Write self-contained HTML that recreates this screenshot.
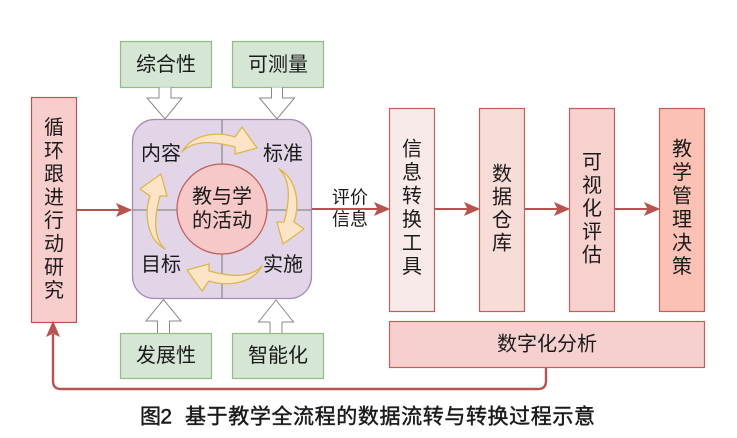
<!DOCTYPE html>
<html>
<head>
<meta charset="utf-8">
<style>
html,body{margin:0;padding:0;background:#fff;}
svg{display:block;}
text{font-family:"Liberation Sans","Noto Sans CJK SC","WenQuanYi Zen Hei",sans-serif;fill:#1a1a1a;}
</style>
</head>
<body>
<svg width="737" height="438" viewBox="0 0 737 438" xmlns="http://www.w3.org/2000/svg">
  <rect x="0" y="0" width="737" height="438" fill="#fff"/>

  <!-- top green boxes -->
  <rect x="120.5" y="41.5" width="91" height="46" fill="#d5e6d4" stroke="#8fbf7f" stroke-width="1.2"/>
  <rect x="232.5" y="41.5" width="91" height="46" fill="#d5e6d4" stroke="#8fbf7f" stroke-width="1.2"/>
  <text x="166" y="65" font-size="20" text-anchor="middle" dominant-baseline="central">综合性</text>
  <text x="278" y="65" font-size="20" text-anchor="middle" dominant-baseline="central">可测量</text>

  <!-- hollow down arrows -->
  <path d="M159,87.5 L159,98 L147,98 L165,119 L182,98 L171,98 L171,87.5" fill="#fff" stroke="#888" stroke-width="1"/>
  <path d="M271.5,87.5 L271.5,98 L259.5,98 L277,119 L294.5,98 L282.5,98 L282.5,87.5" fill="#fff" stroke="#888" stroke-width="1"/>

  <!-- bottom green boxes -->
  <rect x="120.5" y="333.5" width="91" height="45" fill="#d5e6d4" stroke="#8fbf7f" stroke-width="1.2"/>
  <rect x="232.5" y="333.5" width="91" height="45" fill="#d5e6d4" stroke="#8fbf7f" stroke-width="1.2"/>
  <text x="166" y="356" font-size="20" text-anchor="middle" dominant-baseline="central">发展性</text>
  <text x="278" y="356" font-size="20" text-anchor="middle" dominant-baseline="central">智能化</text>

  <!-- hollow up arrows -->
  <path d="M157.5,333 L157.5,321 L146,321 L163.5,299.5 L181,321 L169.5,321 L169.5,333" fill="#fff" stroke="#888" stroke-width="1"/>
  <path d="M270,333 L270,322 L258.5,322 L276,300 L293.5,322 L282,322 L282,333" fill="#fff" stroke="#888" stroke-width="1"/>

  <!-- purple box -->
  <rect x="132.5" y="119.5" width="179" height="179" rx="22" ry="22" fill="#e1d5e7" stroke="#a48bb3" stroke-width="1.3"/>
  <line x1="222" y1="120" x2="222" y2="298" stroke="#777" stroke-width="1"/>
  <line x1="133" y1="210" x2="311" y2="210" stroke="#777" stroke-width="1"/>

  <!-- yellow curved arrows -->
  <g transform="translate(222,209)">
    <path d="M-40,-57 C-30,-75 -5,-78 13,-72 L20,-82 L35,-61 L13,-55 L13,-62 C-5,-67 -28,-70 -40,-57 Z" fill="#fde4c6" stroke="#dcb64e" stroke-width="1.3" stroke-linejoin="round"/>
    <path transform="rotate(90)" d="M-40,-57 C-30,-75 -5,-78 13,-72 L20,-82 L35,-61 L13,-55 L13,-62 C-5,-67 -28,-70 -40,-57 Z" fill="#fde4c6" stroke="#dcb64e" stroke-width="1.3" stroke-linejoin="round"/>
    <path transform="rotate(180)" d="M-40,-57 C-30,-75 -5,-78 13,-72 L20,-82 L35,-61 L13,-55 L13,-62 C-5,-67 -28,-70 -40,-57 Z" fill="#fde4c6" stroke="#dcb64e" stroke-width="1.3" stroke-linejoin="round"/>
    <path transform="rotate(270)" d="M-40,-57 C-30,-75 -5,-78 13,-72 L20,-82 L35,-61 L13,-55 L13,-62 C-5,-67 -28,-70 -40,-57 Z" fill="#fde4c6" stroke="#dcb64e" stroke-width="1.3" stroke-linejoin="round"/>
  </g>

  <!-- circle -->
  <circle cx="222" cy="209" r="45" fill="#f6c9c8" stroke="#c0605b" stroke-width="1.3"/>
  <text x="222" y="197" font-size="20" text-anchor="middle" dominant-baseline="central">教与学</text>
  <text x="222" y="221" font-size="20" text-anchor="middle" dominant-baseline="central">的活动</text>

  <!-- quadrant labels -->
  <text x="161" y="154" font-size="20" text-anchor="middle" dominant-baseline="central">内容</text>
  <text x="283" y="154" font-size="20" text-anchor="middle" dominant-baseline="central">标准</text>
  <text x="161" y="265" font-size="20" text-anchor="middle" dominant-baseline="central">目标</text>
  <text x="283" y="265" font-size="20" text-anchor="middle" dominant-baseline="central">实施</text>

  <!-- left box -->
  <rect x="31.5" y="97.5" width="45" height="225" fill="#f8cecc" stroke="#b85450" stroke-width="1.2"/>
  <g font-size="20" text-anchor="middle">
    <text x="54" y="128" dominant-baseline="central">循</text>
    <text x="54" y="151.3" dominant-baseline="central">环</text>
    <text x="54" y="174.6" dominant-baseline="central">跟</text>
    <text x="54" y="197.9" dominant-baseline="central">进</text>
    <text x="54" y="221.2" dominant-baseline="central">行</text>
    <text x="54" y="244.5" dominant-baseline="central">动</text>
    <text x="54" y="267.8" dominant-baseline="central">研</text>
    <text x="54" y="291.1" dominant-baseline="central">究</text>
  </g>

  <!-- red connectors -->
  <line x1="77" y1="210" x2="121" y2="210" stroke="#b85450" stroke-width="2"/>
  <path d="M131,210 L117,204 L120,210 L117,216 Z" fill="#b85450" stroke="#b85450" stroke-width="1"/>

  <line x1="312" y1="209" x2="378" y2="209" stroke="#b85450" stroke-width="2"/>
  <path d="M389,209 L375,203 L378,209 L375,215 Z" fill="#b85450" stroke="#b85450" stroke-width="1"/>
  <text x="350" y="197.5" font-size="18" text-anchor="middle" dominant-baseline="central">评价</text>
  <text x="350" y="219.5" font-size="18" text-anchor="middle" dominant-baseline="central">信息</text>

  <line x1="434" y1="209" x2="468" y2="209" stroke="#b85450" stroke-width="2"/>
  <path d="M479,209 L465,203 L468,209 L465,215 Z" fill="#b85450" stroke="#b85450" stroke-width="1"/>
  <line x1="524" y1="209" x2="558" y2="209" stroke="#b85450" stroke-width="2"/>
  <path d="M569,209 L555,203 L558,209 L555,215 Z" fill="#b85450" stroke="#b85450" stroke-width="1"/>
  <line x1="614" y1="209" x2="648" y2="209" stroke="#b85450" stroke-width="2"/>
  <path d="M659,209 L645,203 L648,209 L645,215 Z" fill="#b85450" stroke="#b85450" stroke-width="1"/>

  <!-- right boxes -->
  <rect x="389.5" y="108.5" width="45" height="203" fill="#f8eae8" stroke="#c0605b" stroke-width="1.2"/>
  <rect x="479.5" y="108.5" width="45" height="203" fill="#f7dcd8" stroke="#c0605b" stroke-width="1.2"/>
  <rect x="569.5" y="108.5" width="45" height="203" fill="#f6d1cd" stroke="#c0605b" stroke-width="1.2"/>
  <rect x="659.5" y="108.5" width="45" height="203" fill="#fbc1b5" stroke="#c0605b" stroke-width="1.2"/>

  <g font-size="20" text-anchor="middle">
    <text x="412" y="149.5" dominant-baseline="central">信</text>
    <text x="412" y="173" dominant-baseline="central">息</text>
    <text x="412" y="196.5" dominant-baseline="central">转</text>
    <text x="412" y="220" dominant-baseline="central">换</text>
    <text x="412" y="243.5" dominant-baseline="central">工</text>
    <text x="412" y="267" dominant-baseline="central">具</text>

    <text x="502" y="174.5" dominant-baseline="central">数</text>
    <text x="502" y="197.5" dominant-baseline="central">据</text>
    <text x="502" y="220.5" dominant-baseline="central">仓</text>
    <text x="502" y="243.5" dominant-baseline="central">库</text>

    <text x="592" y="162.5" dominant-baseline="central">可</text>
    <text x="592" y="185.8" dominant-baseline="central">视</text>
    <text x="592" y="209" dominant-baseline="central">化</text>
    <text x="592" y="232.3" dominant-baseline="central">评</text>
    <text x="592" y="255.5" dominant-baseline="central">估</text>

    <text x="682" y="149.5" dominant-baseline="central">教</text>
    <text x="682" y="173" dominant-baseline="central">学</text>
    <text x="682" y="196.5" dominant-baseline="central">管</text>
    <text x="682" y="220" dominant-baseline="central">理</text>
    <text x="682" y="243.5" dominant-baseline="central">决</text>
    <text x="682" y="267" dominant-baseline="central">策</text>
  </g>

  <!-- 数字化分析 -->
  <rect x="389.5" y="321.5" width="315" height="46" fill="#f6cfcf" stroke="#c0605b" stroke-width="1.2"/>
  <text x="547" y="344.5" font-size="20" text-anchor="middle" dominant-baseline="central">数字化分析</text>

  <!-- feedback line -->
  <path d="M546,368 L546,381 Q546,389 538,389 L61,389 Q53,389 53,381 L53,334" fill="none" stroke="#b85450" stroke-width="2.4"/>
  <path d="M53,322 L47,336 L53,333 L59,336 Z" fill="#b85450" stroke="#b85450" stroke-width="1"/>

  <!-- caption -->
  <text x="140" y="417" font-size="21" stroke="#1a1a1a" stroke-width="0.45" dominant-baseline="central" textLength="32" lengthAdjust="spacing">图2</text>
  <text x="185" y="417" font-size="21" stroke="#1a1a1a" stroke-width="0.45" dominant-baseline="central" textLength="410" lengthAdjust="spacing">基于教学全流程的数据流转与转换过程示意</text>
</svg>
</body>
</html>
